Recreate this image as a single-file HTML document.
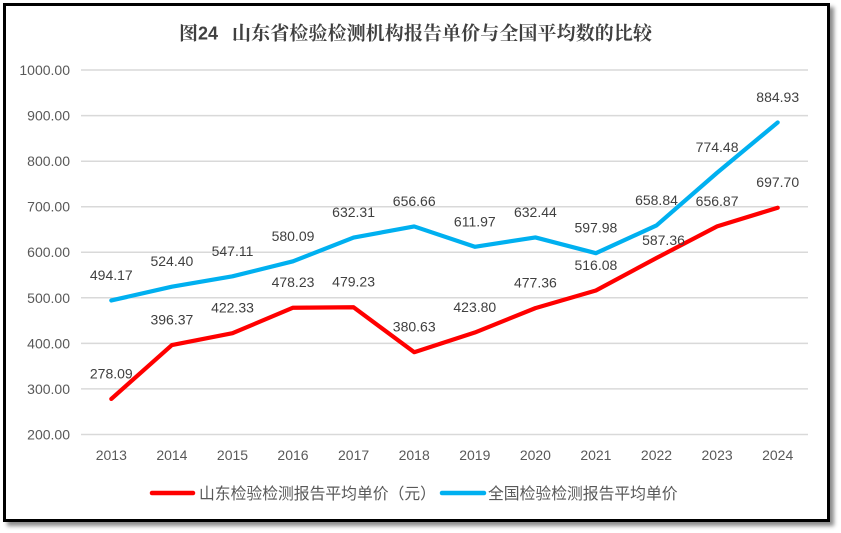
<!DOCTYPE html>
<html><head><meta charset="utf-8"><style>
html,body{margin:0;padding:0;background:#fff;width:841px;height:533px;overflow:hidden}
#box{position:absolute;left:3px;top:3px;width:821px;height:513px;border:3px solid #000;background:#fff;box-shadow:4px 4px 4px rgba(0,0,0,0.45)}
svg{position:absolute;left:0;top:0}
</style></head><body>
<div id="box"></div>
<svg width="841" height="533" viewBox="0 0 841 533" xmlns="http://www.w3.org/2000/svg">
<text x="179" y="39.5" font-family="'Liberation Serif','Noto Serif CJK SC',serif" font-weight="bold" font-size="19" fill="#404040">图<tspan font-family="'Liberation Sans',sans-serif" font-size="18">24</tspan></text>
<text x="232" y="39.5" textLength="420" lengthAdjust="spacing" font-family="'Liberation Serif','Noto Serif CJK SC',serif" font-weight="bold" font-size="19" fill="#404040">山东省检验检测机构报告单价与全国平均数的比较</text>
<g stroke="#d9d9d9" stroke-width="1.5">
<line x1="81" x2="808" y1="70" y2="70"/>
<line x1="81" x2="808" y1="115.6" y2="115.6"/>
<line x1="81" x2="808" y1="161.2" y2="161.2"/>
<line x1="81" x2="808" y1="206.7" y2="206.7"/>
<line x1="81" x2="808" y1="252.2" y2="252.2"/>
<line x1="81" x2="808" y1="297.8" y2="297.8"/>
<line x1="81" x2="808" y1="343.4" y2="343.4"/>
<line x1="81" x2="808" y1="388.9" y2="388.9"/>
<line x1="81" x2="808" y1="434.5" y2="434.5"/>
</g>
<g font-family="'Liberation Sans',sans-serif" font-size="14" fill="#595959" text-anchor="end">
<text x="70" y="75">1000.00</text>
<text x="70" y="120.6">900.00</text>
<text x="70" y="166.2">800.00</text>
<text x="70" y="211.7">700.00</text>
<text x="70" y="257.2">600.00</text>
<text x="70" y="302.8">500.00</text>
<text x="70" y="348.4">400.00</text>
<text x="70" y="393.9">300.00</text>
<text x="70" y="439.5">200.00</text>
</g>
<g font-family="'Liberation Sans',sans-serif" font-size="14" fill="#595959" text-anchor="middle">
<text x="111.3" y="460">2013</text>
<text x="171.9" y="460">2014</text>
<text x="232.5" y="460">2015</text>
<text x="293.0" y="460">2016</text>
<text x="353.6" y="460">2017</text>
<text x="414.2" y="460">2018</text>
<text x="474.8" y="460">2019</text>
<text x="535.4" y="460">2020</text>
<text x="595.9" y="460">2021</text>
<text x="656.5" y="460">2022</text>
<text x="717.1" y="460">2023</text>
<text x="777.7" y="460">2024</text>
</g>
<polyline fill="none" stroke="#00B0F0" stroke-width="4.2" stroke-linejoin="round" stroke-linecap="round" points="111.3,300.47 171.9,286.69 232.5,276.35 293.0,261.32 353.6,237.53 414.2,226.43 474.8,246.79 535.4,237.47 595.9,253.17 656.5,225.44 717.1,172.75 777.7,122.43"/>
<polyline fill="none" stroke="#FF0000" stroke-width="4.2" stroke-linejoin="round" stroke-linecap="round" points="111.3,398.92 171.9,345.03 232.5,333.20 293.0,307.73 353.6,307.27 414.2,352.20 474.8,332.53 535.4,308.13 595.9,290.49 656.5,258.01 717.1,226.34 777.7,207.73"/>
<g font-family="'Liberation Sans',sans-serif" font-size="14" fill="#404040" text-anchor="middle">
<text x="111.3" y="279.9">494.17</text>
<text x="171.9" y="266.1">524.40</text>
<text x="232.5" y="255.8">547.11</text>
<text x="293.0" y="240.8">580.09</text>
<text x="353.6" y="217.0">632.31</text>
<text x="414.2" y="205.9">656.66</text>
<text x="474.8" y="226.3">611.97</text>
<text x="535.4" y="216.9">632.44</text>
<text x="595.9" y="232.6">597.98</text>
<text x="656.5" y="204.9">658.84</text>
<text x="717.1" y="152.2">774.48</text>
<text x="777.7" y="101.9">884.93</text>
<text x="111.3" y="378.4">278.09</text>
<text x="171.9" y="324.5">396.37</text>
<text x="232.5" y="312.7">422.33</text>
<text x="293.0" y="287.2">478.23</text>
<text x="353.6" y="286.7">479.23</text>
<text x="414.2" y="331.7">380.63</text>
<text x="474.8" y="312.0">423.80</text>
<text x="535.4" y="287.6">477.36</text>
<text x="595.9" y="270.0">516.08</text>
<text x="663.5" y="245.0">587.36</text>
<text x="717.1" y="205.8">656.87</text>
<text x="777.7" y="187.2">697.70</text>
</g>
<line x1="152" y1="493" x2="193" y2="493" stroke="#FF0000" stroke-width="4.5" stroke-linecap="round"/>
<line x1="442" y1="493" x2="484" y2="493" stroke="#00B0F0" stroke-width="4.5" stroke-linecap="round"/>
<g font-family="'Liberation Sans','Noto Sans CJK SC',sans-serif" font-size="15.8" fill="#595959">
<text x="199" y="499">山东检验检测报告平均单价（元）</text>
<text x="488" y="499">全国检验检测报告平均单价</text>
</g>
</svg>
</body></html>
